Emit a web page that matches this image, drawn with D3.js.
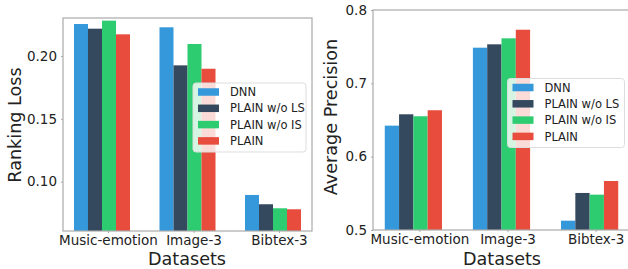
<!DOCTYPE html>
<html>
<head>
<meta charset="utf-8">
<script src="https://cdn.jsdelivr.net/npm/d3@7"></script>
<style>
  body { margin: 0; background: #fff; }
  text { font-family: "DejaVu Sans", sans-serif; fill: #222; }
</style>
</head>
<body>
<div id="chart"></div>
<script>
// data
var datasets = ["Music-emotion", "Image-3", "Bibtex-3"];
var methods = ["DNN", "PLAIN w/o LS", "PLAIN w/o IS", "PLAIN"];
var colors = ["#3498db", "#34495e", "#2ecc71", "#e74c3c"];

var rankingLoss = [
  [0.2255, 0.2218, 0.2282, 0.2173],
  [0.2229, 0.1926, 0.2096, 0.1899],
  [0.0894, 0.0820, 0.0788, 0.0780]
];
var avgPrecision = [
  [0.6423, 0.6578, 0.6551, 0.6633],
  [0.7486, 0.7532, 0.7614, 0.7731],
  [0.5127, 0.5505, 0.5482, 0.5668]
];
var lossTicks = [0.10, 0.15, 0.20];
var precTicks = [0.5, 0.6, 0.7, 0.8];

var svg = d3.select("#chart").append("svg")
  .attr("width", 628)
  .attr("height", 269);

function drawPanel(opts) {
  var g = svg.append("g");

  var x0 = d3.scalePoint()
    .domain(datasets)
    .range([opts.left, opts.right])
    .padding(opts.pad);

  var x1 = d3.scaleBand()
    .domain(methods)
    .range([-opts.barW * 2, opts.barW * 2]);

  var y = d3.scaleLinear()
    .domain(opts.domain)
    .range([opts.bottom, opts.top]);

  // bars
  datasets.forEach(function(ds, i) {
    g.append("g").selectAll("rect")
      .data(opts.values[i])
      .enter()
      .append("rect")
      .attr("x", (d, j) => x0(ds) + x1(methods[j]))
      .attr("width", x1.bandwidth())
      .attr("y", d => y(d))
      .attr("height", d => opts.bottom - y(d))
      .attr("fill", (d, j) => colors[j]);
  });

  // frame
  g.append("rect")
    .attr("x", opts.left)
    .attr("y", opts.top)
    .attr("width", opts.right - opts.left)
    .attr("height", opts.bottom - opts.top)
    .attr("fill", "none")
    .attr("stroke", "#aaa")
    .attr("stroke-width", 1.2);

  // y axis
  var yAxis = d3.axisLeft(y)
    .tickValues(opts.ticks)
    .tickFormat(opts.fmt)
    .tickSize(2)
    .tickPadding(4);
  var ya = g.append("g")
    .attr("transform", `translate(${opts.left},0)`)
    .call(yAxis);
  ya.select(".domain").remove();
  ya.selectAll("line").attr("stroke", "#aaa");
  ya.selectAll("text").style("font-size", "13.5px").attr("fill", "#222");

  // x axis
  var xAxis = d3.axisBottom(x0)
    .tickSize(2)
    .tickPadding(2);
  var xa = g.append("g")
    .attr("transform", `translate(${opts.tickShift},${opts.bottom})`)
    .call(xAxis);
  xa.select(".domain").remove();
  xa.selectAll("line").attr("stroke", "#aaa");
  xa.selectAll("text").style("font-size", "13.5px").attr("fill", "#222");

  // axis labels
  g.append("text")
    .attr("x", opts.xLabelX)
    .attr("y", 265)
    .attr("text-anchor", "middle")
    .style("font-size", "17.6px")
    .text("Datasets");

  g.append("text")
    .attr("transform", `translate(${opts.yLabelX},${opts.yLabelY}) rotate(-90)`)
    .attr("text-anchor", "middle")
    .style("font-size", "17.6px")
    .text(opts.yLabel);

  // legend
  var lg = g.append("g")
    .attr("transform", `translate(${opts.legX},${opts.legY})`);
  lg.append("rect")
    .attr("width", opts.legW)
    .attr("height", 69)
    .attr("rx", 3)
    .attr("fill", "#fff")
    .attr("fill-opacity", 0.8)
    .attr("stroke", "#ddd");
  var items = lg.selectAll("g.item")
    .data(methods)
    .enter()
    .append("g")
    .attr("class", "item")
    .attr("transform", (d, i) => `translate(5,${9 + i * 16.3})`);
  items.append("rect")
    .attr("width", 21)
    .attr("height", 7.5)
    .attr("y", -3.75)
    .attr("fill", (d, i) => colors[i]);
  items.append("text")
    .attr("x", 32)
    .attr("dy", "0.36em")
    .style("font-size", "11.5px")
    .text(d => d);
}

drawPanel({
  left: 63, right: 312, top: 18, bottom: 231,
  pad: 0.456, barW: 14, tickShift: 6,
  domain: [0.0607, 0.2303],
  values: rankingLoss,
  ticks: lossTicks, fmt: d3.format(".2f"),
  yLabel: "Ranking Loss", yLabelX: 21, yLabelY: 125,
  xLabelX: 187,
  legX: 193, legY: 83, legW: 113
});

drawPanel({
  left: 373, right: 630, top: 10, bottom: 230,
  pad: 0.458, barW: 14.3, tickShift: 6,
  domain: [0.5, 0.8],
  values: avgPrecision,
  ticks: precTicks, fmt: d3.format(".1f"),
  yLabel: "Average Precision", yLabelX: 337, yLabelY: 117,
  xLabelX: 502,
  legX: 507.5, legY: 78.5, legW: 117
});
</script>
</body>
</html>
